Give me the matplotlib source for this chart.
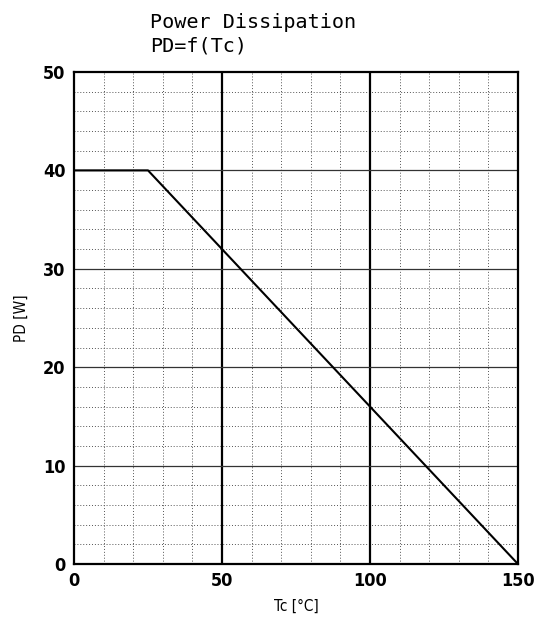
import numpy as np
import matplotlib.pyplot as plt

# derating curve
tc = [0, 25, 150]
pd = [40, 40, 0]

x_major = [0, 50, 100, 150]
y_major = [0, 10, 20, 30, 40, 50]

fig = plt.figure(figsize=(5.34, 6.26), dpi=100)
ax = fig.add_axes([0.1386, 0.099, 0.8314, 0.786])

ax.set_xlim(0, 150)
ax.set_ylim(0, 50)

# dotted fine grid
for xv in np.arange(10, 150, 10):
    if xv % 50:
        ax.axvline(xv, color='#555555', linestyle=(0, (1, 2)), linewidth=0.7, zorder=1)
for yv in np.arange(2, 50, 2):
    if yv % 10:
        ax.axhline(yv, color='#555555', linestyle=(0, (1, 2)), linewidth=0.7, zorder=1)

# main grid
for xv in [50, 100]:
    ax.axvline(xv, color='black', linewidth=1.6, zorder=2)
for yv in [10, 20, 30, 40]:
    ax.axhline(yv, color='#333333', linewidth=0.9, zorder=2)

ax.plot(tc, pd, color='black', linewidth=1.5, zorder=3)

for s in ax.spines.values():
    s.set_linewidth(1.6)
    s.set_color('black')

lab_font = dict(family='DejaVu Sans', stretch='condensed', weight='bold', size=13)
ax.set_xticks(x_major)
ax.set_yticks(y_major)
ax.set_xticklabels([str(v) for v in x_major], fontdict=lab_font)
ax.set_yticklabels([str(v) for v in y_major], fontdict=lab_font)
ax.tick_params(length=0, pad=6)

ax.set_xlabel('Tc [°C]', family='DejaVu Sans', stretch='condensed', size=11, labelpad=6)
ax.set_ylabel('PD [W]', family='DejaVu Sans', stretch='condensed', size=11, labelpad=10)

fig.text(0.281, 0.955, 'Power Dissipation', family='DejaVu Sans Mono', size=14.5, va='baseline')
fig.text(0.281, 0.918, 'PD=f(Tc)', family='DejaVu Sans Mono', size=14.5, va='baseline')

fig.savefig('out.png', dpi=100)
